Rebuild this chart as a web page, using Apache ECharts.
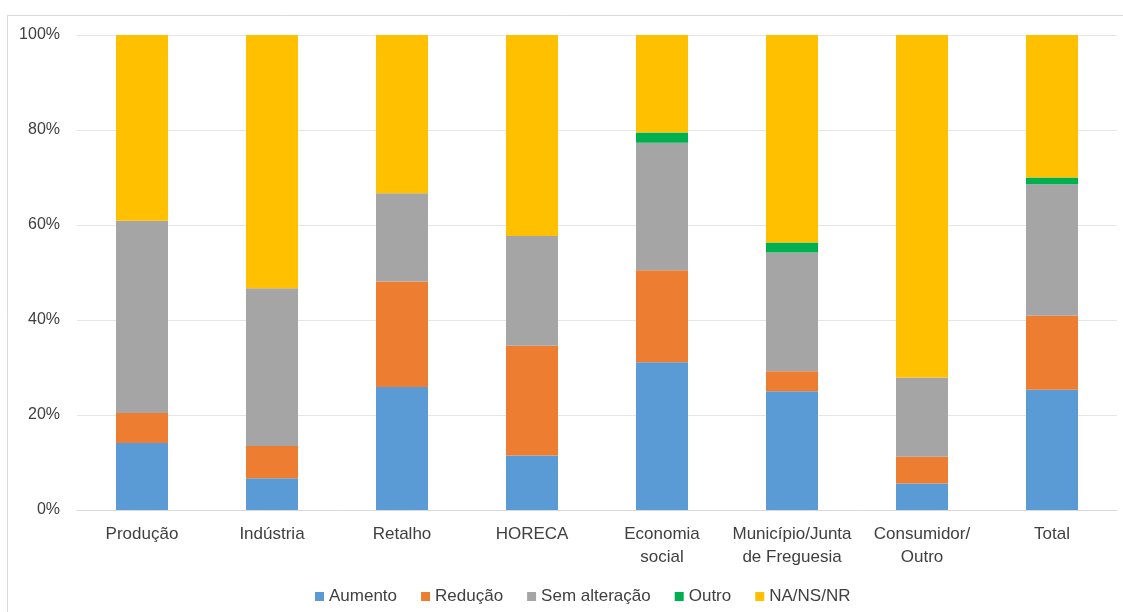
<!DOCTYPE html>
<html>
<head>
<meta charset="utf-8">
<script src="https://cdn.jsdelivr.net/npm/echarts@6/dist/echarts.min.js"></script>
<style>
html,body{margin:0;padding:0;background:#fff;}
#c{width:1123px;height:612px;}
</style>
</head>
<body>
<div id="c"></div>
<script>
const categories = ['Produção','Indústria','Retalho','HORECA','Economia\nsocial','Município/Junta\nde Freguesia','Consumidor/\nOutro','Total'];
const seriesNames = ['Aumento','Redução','Sem alteração','Outro','NA/NS/NR'];
const aumento      = [14.1, 6.7, 25.9, 11.5, 31.1, 25.0, 5.6, 25.3];
const reducao      = [6.3, 6.8, 22.2, 23.1, 19.4, 4.2, 5.6, 15.6];
const semAlteracao = [40.5, 33.2, 18.6, 23.1, 26.8, 25.0, 16.7, 27.7];
const outro        = [0, 0, 0, 0, 2.2, 2.1, 0, 1.4];
const naNsNr       = [39.1, 53.3, 33.3, 42.3, 20.5, 43.7, 72.2, 30.0];
const yTicks = [0, 20, 40, 60, 80, 100];
const colors = ['#5B9BD5','#ED7D31','#A5A5A5','#00B050','#FFC000'];

const font = "'Liberation Sans','DejaVu Sans',sans-serif";
const dataSets = [aumento, reducao, semAlteracao, outro, naNsNr];

const chart = echarts.init(document.getElementById('c'), null, {renderer:'canvas'});
chart.setOption({
  animation: false,
  backgroundColor: '#fff',
  textStyle: {fontFamily: font},
  graphic: [
    {type:'line', shape:{x1:7.5,y1:15.5,x2:1123,y2:15.5}, style:{stroke:'#d9d9d9', lineWidth:1}},
    {type:'line', shape:{x1:7.5,y1:15.5,x2:7.5,y2:612}, style:{stroke:'#d9d9d9', lineWidth:1}}
  ],
  grid: {left: 77, right: 6, top: 35, bottom: 102},
  legend: {
    data: seriesNames,
    left: 310, top: 583,
    itemWidth: 9, itemHeight: 9, itemGap: 24,
    icon: 'rect',
    textStyle: {fontSize: 17, color: '#404040', fontFamily: font}
  },
  xAxis: {
    type: 'category',
    data: categories,
    axisLine: {show: true, lineStyle: {color: '#d9d9d9'}},
    axisTick: {show: false},
    axisLabel: {fontSize: 17, color: '#404040', margin: 13, lineHeight: 23, interval: 0, fontFamily: font}
  },
  yAxis: {
    type: 'value',
    min: 0, max: 100, interval: 20,
    axisLine: {show: false},
    axisTick: {show: false},
    splitLine: {lineStyle: {color: '#e6e6e6'}},
    axisLabel: {fontSize: 16, color: '#404040', margin: 17, fontFamily: font,
      formatter: v => yTicks.includes(v) ? v + '%' : ''}
  },
  series: seriesNames.map((n, i) => ({
    name: n,
    type: 'bar',
    stack: 'total',
    barWidth: '40%',
    data: dataSets[i],
    itemStyle: {color: colors[i]}
  }))
});
</script>
</body>
</html>
